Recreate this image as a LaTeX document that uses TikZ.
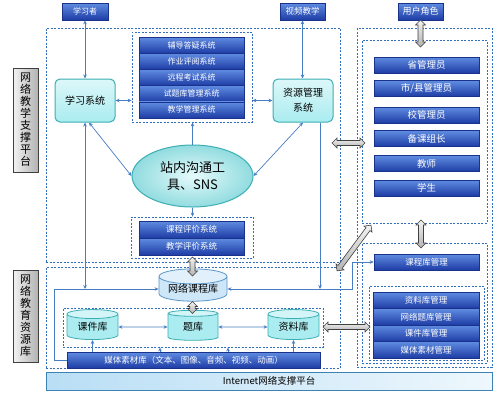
\documentclass[tikz,border=0pt]{standalone}
\usepackage{fontspec}
\setmainfont{Noto Sans CJK SC}
\usetikzlibrary{shapes.geometric,shapes.arrows,arrows.meta,calc}
\definecolor{dbtop}{RGB}{95,140,225}
\definecolor{dbbot}{RGB}{30,60,165}
\definecolor{dbline}{RGB}{25,50,140}
\definecolor{cyfill}{RGB}{170,236,240}
\definecolor{cyline}{RGB}{60,175,180}
\definecolor{dashblue}{RGB}{50,110,190}
\definecolor{connc}{RGB}{70,125,195}
\definecolor{nlfill}{RGB}{205,230,248}
\definecolor{nlline}{RGB}{90,150,200}
\tikzset{
  bluebox/.style={draw=dbline, line width=0.6pt, top color=dbtop, bottom color=dbbot, text=white, inner sep=0pt, font=\fontsize{8}{9}\selectfont},
  dbox/.style={draw=dashblue, line width=0.8pt, dash pattern=on 2pt off 1.5pt, inner sep=0pt},
  cybox/.style={draw=cyline, line width=1pt, rounded corners=5pt, top color=white!60!cyfill, bottom color=cyfill, align=center, inner sep=0pt, font=\fontsize{10}{15}\selectfont},
  labbox/.style={draw=black!75, line width=0.8pt, left color=gray!10, right color=gray!60, align=center, inner sep=0pt, minimum width=25pt, font=\fontsize{11}{12}\selectfont},
  dbcyl/.style={cylinder, shape border rotate=90, aspect=0.3, draw=cyline, line width=0.8pt, cylinder uses custom fill, cylinder body fill=cyfill, cylinder end fill=white!50!cyfill, inner sep=0pt, font=\fontsize{10}{12}\selectfont},
  link/.style={draw=connc, line width=0.7pt, {Stealth[length=4pt,width=3.5pt]}-{Stealth[length=4pt,width=3.5pt]}},
  linkto/.style={draw=connc, line width=0.7pt, -{Stealth[length=4pt,width=3.5pt]}},
  fatarrow/.style={shape=double arrow, double arrow head extend=2.5pt, inner sep=2.2pt, minimum width=10pt, draw=gray!50!black, line width=0.6pt, top color=gray!10, bottom color=gray!60},
}
\begin{document}
\begin{tikzpicture}[x=1pt,y=-1pt]
\useasboundingbox (0,0) rectangle (500,400);
\fill[white] (0,0) rectangle (500,400);

% dashed region boxes
\node[dbox, minimum width=294pt, minimum height=234pt] (upL) at (193,145) {};
\node[dbox, minimum width=120pt, minimum height=90pt] (sysBox) at (192,77) {};
\node[dbox, minimum width=122pt, minimum height=41pt] (evalBox) at (192,237.5) {};
\node[dbox, minimum width=294pt, minimum height=101pt] (lowL) at (193,317.5) {};
\node[dbox, minimum width=260pt, minimum height=39pt] (libBox) at (193,327.5) {};
\node[dbox, minimum width=135pt, minimum height=339pt] (rOuter) at (424.5,197.5) {};
\node[dbox, minimum width=125pt, minimum height=183pt] (rTop) at (424.5,131.5) {};
\node[dbox, minimum width=125pt, minimum height=120pt] (rLow) at (424.5,303) {};
\node[dbox, minimum width=115pt, minimum height=74pt] (mgmtBox) at (426.5,323) {};

% left labels
\node[labbox, minimum height=104pt] (lab1) at (25.5,120) {网\\络\\教\\学\\支\\撑\\平\\台};
\node[labbox, minimum height=92pt] (lab2) at (25.5,316) {网\\络\\教\\育\\资\\源\\库};

% top boxes
\node[bluebox, minimum width=46pt, minimum height=17pt] (learner) at (85,11.5) {学习者};
\node[bluebox, minimum width=45pt, minimum height=17pt, font=\fontsize{8.5}{9}\selectfont] (video) at (302.5,11.5) {视频教学};
\node[bluebox, minimum width=45pt, minimum height=17pt, font=\fontsize{9}{10}\selectfont] (role) at (420.5,11.5) {用户角色};

% system stack
\foreach \t [count=\i from 0] in {辅导答疑系统,作业评阅系统,远程考试系统,试题库管理系统,教学管理系统}{
  \node[bluebox, minimum width=105pt, minimum height=16.2pt] (sys\i) at (191.5,45.1+16.2*\i) {\t};
}
% eval stack
\node[bluebox, minimum width=105pt, minimum height=17pt, font=\fontsize{8.5}{9}\selectfont] (ev1) at (191.5,229.5) {课程评价系统};
\node[bluebox, minimum width=105pt, minimum height=17pt, font=\fontsize{8.5}{9}\selectfont] (ev2) at (191.5,246.5) {教学评价系统};

% main systems
\node[cybox, minimum width=60pt, minimum height=43pt] (xuexi) at (85,100.5) {学习系统};
\node[cybox, minimum width=60pt, minimum height=43pt] (ziyuan) at (303,100.5) {资源管理\\系统};
\node[ellipse, draw=cyline, line width=1pt, inner color=white!70!cyfill, outer color=cyfill!85!teal, minimum width=121pt, minimum height=62pt, inner sep=0pt, align=center, font=\fontsize{13}{17}\selectfont] (sns) at (192.5,176) {站内沟通工\\具、SNS};

% roles
\foreach \y/\t [count=\i] in {65/省管理员, 88.5/{市/县管理员}, 115/校管理员, 138.5/备课组长, 163.5/教师, 188/学生}{
  \node[bluebox, minimum width=105pt, minimum height=16pt, font=\fontsize{9.5}{10}\selectfont] (role\i) at (426.5,\y) {\t};
}
\node[bluebox, minimum width=105pt, minimum height=16pt, font=\fontsize{8.5}{9}\selectfont] (kcgl) at (426.5,262) {课程库管理};
\foreach \t [count=\i from 0] in {资料库管理,网络题库管理,课件库管理,媒体素材管理}{
  \node[bluebox, minimum width=106pt, minimum height=16.5pt, font=\fontsize{8.5}{9}\selectfont] (mg\i) at (426,300.25+16.5*\i) {\t};
}

% libraries
\node[dbcyl, draw=nlline, cylinder body fill=nlfill, cylinder end fill=white!40!nlfill, minimum width=68pt, minimum height=28pt] (netlib) at (193,289) {网络课程库};
\node[dbcyl, minimum width=51pt, minimum height=30pt] (kj) at (92.5,327) {课件库};
\node[dbcyl, minimum width=50pt, minimum height=30pt] (tk) at (193,327) {题库};
\node[dbcyl, minimum width=51pt, minimum height=30pt] (zl) at (293.5,327) {资料库};

\node[bluebox, minimum width=253pt, minimum height=16pt, font=\fontsize{8.5}{9}\selectfont] (media) at (193.5,360) {媒体素材库（文本、图像、音频、视频、动画）};
\node[draw={rgb,255:red,60;green,130;blue,180}, line width=1pt, left color={rgb,255:red,185;green,222;blue,245}, right color={rgb,255:red,238;green,247;blue,253}, minimum width=446pt, minimum height=18pt, inner sep=0pt, font=\fontsize{9.5}{10}\selectfont] (inet) at (269,381) {Internet网络支撑平台};

% connectors
\draw[link] (learner) -- (xuexi);
\draw[link] (video.south) -- (video.south |- ziyuan.north);
\draw[link] (xuexi.east) -- (xuexi.east -| sysBox.west);
\draw[link] (ziyuan.west) -- (ziyuan.west -| sysBox.east);
\draw[link] ([xshift=4pt]xuexi.south) -- (sns.west);
\draw[link] (ziyuan.south) -- (sns.east);
\draw[linkto] (sns.north) -- (sns.north |- sysBox.south);
\draw[linkto] (sns.south) -- (sns.south |- evalBox.north);
\draw[link] (xuexi.south) -- (xuexi.south |- netlib.west);
\draw[linkto] ([xshift=17pt]ziyuan.south) -- ([xshift=17pt]ziyuan.south |- netlib.east);
\draw[linkto] (media.west) -- ++(-12,0) |- (netlib.west);
\coordinate (bend) at (352,0);
\draw[link] (netlib.east) -- (netlib.east -| bend) |- (kcgl.west);
\draw[link] (kj) -- (tk);
\draw[link] (tk) -- (zl);
\coordinate (m1) at (160,0);
\coordinate (m2) at (228,0);
\draw[linkto] (kj.south |- media.north) -- (kj.south);
\draw[linkto] (media.north -| m1) -- (libBox.south -| m1);
\draw[linkto] (media.north -| m2) -- (libBox.south -| m2);
\draw[linkto] (zl.south |- media.north) -- (zl.south);

% fat double arrows
\node[fatarrow, minimum height=27pt, rotate=90] (fa1) at (420.5,33.5) {};
\node[fatarrow, minimum height=33pt] (fa2) at (348.5,143) {};
\node[fatarrow, minimum height=57pt, rotate=53.5] (fa3) at (354,248) {};
\node[fatarrow, minimum height=28pt, rotate=90] (fa4) at (421,234) {};
\node[fatarrow, minimum height=19pt, rotate=90] (fa5) at (192.5,266.5) {};
\node[fatarrow, minimum height=12pt, rotate=90, double arrow head extend=2pt] (fa6) at (192.5,307.5) {};
\node[fatarrow, minimum height=47pt] (fa7) at (346.5,327) {};
\end{tikzpicture}
\end{document}
